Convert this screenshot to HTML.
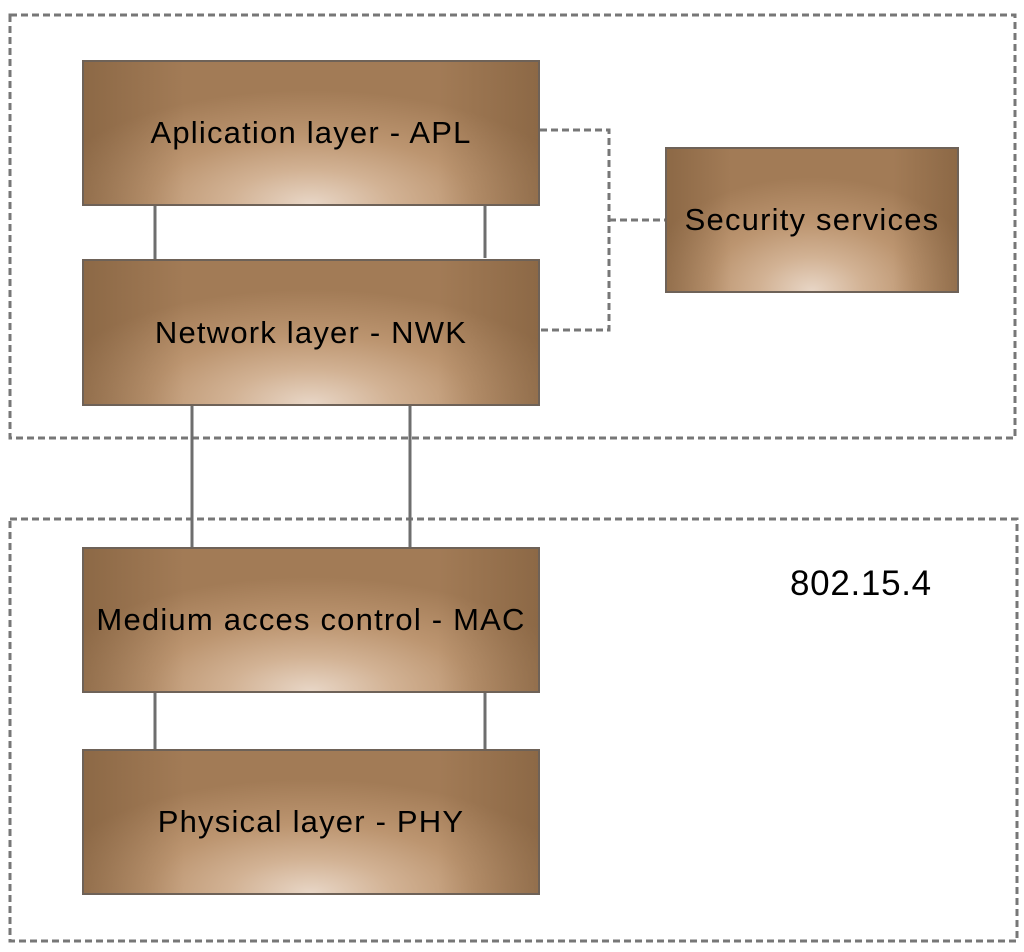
<!DOCTYPE html>
<html><head><meta charset="utf-8"><style>
body{margin:0;width:1024px;height:952px;background:#fff;position:relative;overflow:hidden;font-family:"Liberation Sans",sans-serif}
.b{position:absolute;box-sizing:border-box;border:2px solid #6e6258;
background:radial-gradient(ellipse 60% 80% at 50% 100%,#e8d6c6 0%,#d2b294 30%,#bc9570 60%,#a27b56 100%);
display:flex;align-items:center;justify-content:center;font-size:31px;color:#000;letter-spacing:1.2px}
.b::after{content:"";position:absolute;inset:0;background:linear-gradient(90deg,rgba(100,70,40,.35),rgba(0,0,0,0) 22%,rgba(0,0,0,0) 78%,rgba(100,70,40,.35))}
.b span{position:relative;z-index:1;white-space:nowrap}
</style></head><body>
<svg width="1024" height="952" style="position:absolute;left:0;top:0">
<g fill="none" stroke="#777" stroke-width="3" stroke-dasharray="7,4">
<rect x="10" y="15" width="1005" height="423"/>
<rect x="10" y="519" width="1007" height="422"/>
<polyline points="540,130 609,130 609,330 540,330"/>
<line x1="609" y1="220" x2="666" y2="220"/>
</g>
<g stroke="#6e6e6e" stroke-width="3">
<line x1="155" y1="205" x2="155" y2="260"/>
<line x1="485" y1="200" x2="485" y2="258"/>
<line x1="192" y1="405" x2="192" y2="548"/>
<line x1="410" y1="402" x2="410" y2="548"/>
<line x1="155" y1="692" x2="155" y2="750"/>
<line x1="485" y1="692" x2="485" y2="750"/>
</g>
</svg>
<div class="b" style="left:82px;top:60px;width:458px;height:146px"><span>Aplication layer - APL</span></div>
<div class="b" style="left:82px;top:259px;width:458px;height:147px"><span>Network layer - NWK</span></div>
<div class="b" style="left:665px;top:147px;width:294px;height:146px"><span>Security services</span></div>
<div class="b" style="left:82px;top:547px;width:458px;height:146px"><span>Medium acces control - MAC</span></div>
<div class="b" style="left:82px;top:749px;width:458px;height:146px"><span>Physical layer - PHY</span></div>
<div style="position:absolute;left:790px;top:564px;font-size:35px;color:#000;letter-spacing:0.7px">802.15.4</div>
</body></html>
